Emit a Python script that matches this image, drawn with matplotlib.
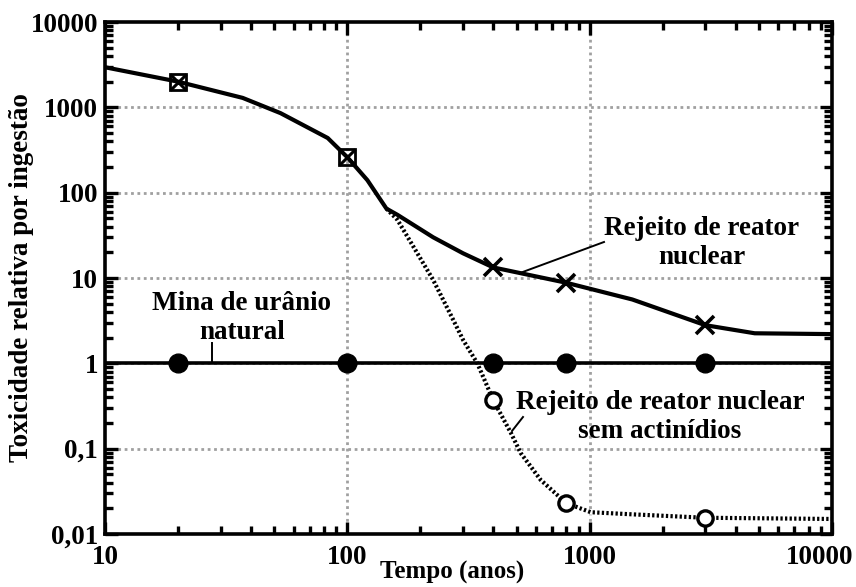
import matplotlib
matplotlib.use("Agg")
import matplotlib.pyplot as plt
import matplotlib.transforms as mtransforms
from matplotlib.ticker import FixedLocator, LogLocator, NullFormatter, FixedFormatter

plt.rcParams['font.family'] = ['Liberation Serif', 'DejaVu Serif']
plt.rcParams['font.weight'] = 'bold'

# Reactor waste (full)
x_main = [10, 20, 37, 53, 83, 100, 121, 145, 161, 226, 300, 400, 800, 1500, 3000, 4800, 10000]
y_main = [2950, 2000, 1290, 855, 437, 260, 140, 65, 55, 30, 19.5, 13.3, 8.8, 5.6, 2.8, 2.25, 2.2]
x_main_sqx = [20, 100]
y_main_sqx = [2000, 260]
x_main_x = [400, 800, 3000]
y_main_x = [13.3, 8.8, 2.8]

# Reactor waste without actinides
x_sa = [145, 161, 226, 274, 301, 344, 400, 472, 519, 628, 800, 1010, 1500, 3000, 10000]
y_sa = [65, 48, 9.5, 3.2, 1.86, 1.0, 0.37, 0.155, 0.089, 0.043, 0.023, 0.018, 0.017, 0.0155, 0.015]
x_sa_mk = [400, 800, 3000]
y_sa_mk = [0.37, 0.023, 0.0155]

# Natural uranium ore
x_ore = [10, 10000]
y_ore = [1, 1]
x_ore_mk = [20, 100, 400, 800, 3000]
y_ore_mk = [1, 1, 1, 1, 1]

yticks = [0.01, 0.1, 1, 10, 100, 1000, 10000]
ytick_labels = ['0,01', '0,1', '1', '10', '100', '1000', '10000']
xticks = [10, 100, 1000, 10000]
xtick_labels = ['10', '100', '1000', '10000']

fs = 19.5

fig = plt.figure(figsize=(8.56, 5.87), dpi=100)
ax = fig.add_axes([105/856, 1-534/587, (832-105)/856, (534-22)/587])
ax.set_xscale('log')
ax.set_yscale('log')
ax.set_xlim(10, 10000)
ax.set_ylim(0.01, 10000)


def px2data(px, py):
    lx = 1 + (px - 105) / 727 * 3
    ly = 4 - (py - 22) / 512 * 6
    return 10 ** lx, 10 ** ly


# grid
for xv in [100, 1000]:
    ax.axvline(xv, color='#a0a0a0', lw=2, ls=(0, (1, 1.3)), zorder=1)
for yv in [0.1, 1, 10, 100, 1000]:
    ax.axhline(yv, color='#a0a0a0', lw=2, ls=(0, (1, 1.3)), zorder=1)

# ore line
ax.plot(x_ore, y_ore, color='black', lw=2.6, zorder=3)
ax.plot(x_ore_mk, y_ore_mk, 'o', color='black', ms=13.5, zorder=4)

# without actinides
ax.plot(x_sa, y_sa, color='white', lw=3.4, zorder=2)
ax.plot(x_sa, y_sa, color='black', lw=3.0, ls=(0, (0.55, 0.55)), zorder=2.5)
ax.plot(x_sa_mk, y_sa_mk, 'o', mfc='white', mec='black', mew=2.4, ms=11, zorder=4)

# full waste
ax.plot(x_main, y_main, color='black', lw=3, zorder=3)
ax.plot(x_main_sqx, y_main_sqx, 's', mfc='none', mec='black', mew=2, ms=11.5, zorder=4)
ax.plot(x_main_sqx, y_main_sqx, 'x', color='black', mew=2.2, ms=11.5, zorder=4)
ax.plot(x_main_x, y_main_x, 'x', color='black', mew=2.6, ms=13, zorder=4)

# annotations
ls_ = 1.2
t1 = px2data(702, 243)
ax.text(*t1, 'Rejeito de reator\nnuclear', ha='center', va='center', fontsize=fs,
        fontweight='bold', linespacing=ls_, zorder=5)
ax.plot(*zip(px2data(604, 242), px2data(520, 273)), color='black', lw=1.4, zorder=5)

t2 = px2data(242, 318)
ax.text(*t2, 'Mina de urânio\nnatural', ha='center', va='center', fontsize=fs,
        fontweight='bold', linespacing=ls_, zorder=5)
ax.plot(*zip(px2data(212, 343), px2data(212, 362)), color='black', lw=1.4, zorder=5)

t3 = px2data(660, 417)
ax.text(*t3, 'Rejeito de reator nuclear\nsem actinídios', ha='center', va='center',
        fontsize=fs, fontweight='bold', linespacing=ls_, zorder=5)
ax.plot(*zip(px2data(523, 417), px2data(512, 431)), color='black', lw=1.4, zorder=5)

# ticks
ax.yaxis.set_major_locator(FixedLocator(yticks))
ax.yaxis.set_major_formatter(FixedFormatter(ytick_labels))
ax.xaxis.set_major_locator(FixedLocator(xticks))
ax.xaxis.set_major_formatter(FixedFormatter(xtick_labels))
ax.xaxis.set_minor_locator(LogLocator(base=10, subs=range(2, 10)))
ax.yaxis.set_minor_locator(LogLocator(base=10, subs=range(2, 10)))
ax.xaxis.set_minor_formatter(NullFormatter())
ax.yaxis.set_minor_formatter(NullFormatter())
ax.tick_params(which='both', direction='in', top=True, right=True, width=2.4)
ax.tick_params(which='major', length=9)
ax.tick_params(which='minor', length=5.5)
ax.tick_params(axis='y', which='major', labelsize=fs, pad=5)
ax.tick_params(axis='x', which='major', labelsize=fs, pad=8)
for lab in ax.get_xticklabels() + ax.get_yticklabels():
    lab.set_fontweight('bold')

# shift last x tick label left to fit like the original
xlabs = ax.get_xticklabels()
xlabs[-1].set_transform(xlabs[-1].get_transform() +
                        mtransforms.ScaledTranslation(-12/100, 0, fig.dpi_scale_trans))

for sp in ax.spines.values():
    sp.set_linewidth(2.6)

ax.set_xlabel('Tempo (anos)', fontsize=18, fontweight='bold')
ax.xaxis.set_label_coords(0.477, -0.053)
ax.set_ylabel('Toxicidade relativa por ingestão', fontsize=fs, fontweight='bold')
ax.yaxis.set_label_coords(-0.098, 0.5)

fig.savefig('out.png', dpi=100)
